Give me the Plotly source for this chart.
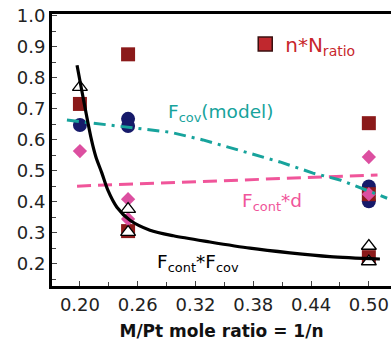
import plotly.graph_objects as go

# ---- data ----
x_sq = [0.20, 0.25, 0.25, 0.50, 0.50, 0.50]
y_sq = [0.716, 0.876, 0.306, 0.654, 0.425, 0.222]

x_circ = [0.20, 0.25, 0.25, 0.50, 0.50]
y_circ = [0.648, 0.668, 0.645, 0.450, 0.402]

x_dia = [0.20, 0.25, 0.25, 0.50, 0.50]
y_dia = [0.564, 0.409, 0.345, 0.545, 0.425]

x_tri = [0.20, 0.25, 0.25, 0.50, 0.50]
y_tri = [0.770, 0.377, 0.303, 0.258, 0.208]

x_fcf = [0.197, 0.212, 0.2166, 0.2228, 0.229, 0.2384, 0.252, 0.2727, 0.297, 0.335, 0.3765, 0.418, 0.4596, 0.5115]
y_fcf = [0.841, 0.600, 0.545, 0.493, 0.438, 0.383, 0.341, 0.309, 0.291, 0.271, 0.251, 0.236, 0.224, 0.216]

x_fcov = [0.1865, 0.25, 0.2935, 0.3277, 0.366, 0.4077, 0.442, 0.47, 0.519]
y_fcov = [0.664, 0.641, 0.625, 0.600, 0.567, 0.529, 0.493, 0.471, 0.412]

x_fd = [0.197, 0.509]
y_fd = [0.451, 0.487]

x_ticks = [0.20, 0.26, 0.32, 0.38, 0.44, 0.50]
x_ticklabels = ["0.20", "0.26", "0.32", "0.38", "0.44", "0.50"]
y_ticks = [0.2, 0.3, 0.4, 0.5, 0.6, 0.7, 0.8, 0.9, 1.0]
y_ticklabels = ["0.2", "0.3", "0.4", "0.5", "0.6", "0.7", "0.8", "0.9", "1.0"]

FONT = "DejaVu Sans"
RED = "#8B1A1A"
NAVY = "#161A6A"
PINK = "#DC4FA0"
PINKL = "#F0559A"
TEAL = "#17A39C"

fig = go.Figure()

fig.add_trace(go.Scatter(x=x_circ, y=y_circ, mode="markers", showlegend=False,
                         marker=dict(symbol="circle", size=14, color=NAVY)))
fig.add_trace(go.Scatter(x=x_sq, y=y_sq, mode="markers", showlegend=False,
                         marker=dict(symbol="square", size=14, color=RED)))
fig.add_trace(go.Scatter(x=x_dia, y=y_dia, mode="markers", showlegend=False,
                         marker=dict(symbol="diamond", size=11, color=PINK)))
fig.add_trace(go.Scatter(x=x_tri, y=y_tri, mode="markers", showlegend=False,
                         marker=dict(symbol="triangle-up", size=13, color="white",
                                     line=dict(color="black", width=1.3))))
fig.add_trace(go.Scatter(x=x_fd, y=y_fd, mode="lines", showlegend=False,
                         line=dict(color=PINKL, width=3, dash="14px,7px")))
fig.add_trace(go.Scatter(x=x_fcov, y=y_fcov, mode="lines", showlegend=False,
                         line=dict(color=TEAL, width=3, dash="12px,6px,3px,6px")))
fig.add_trace(go.Scatter(x=x_fcf, y=y_fcf, mode="lines", showlegend=False,
                         line=dict(color="black", width=3.2, shape="spline", smoothing=0.8)))
# legend entry for n*N_ratio
fig.add_trace(go.Scatter(x=[None], y=[None], mode="markers", name="n*N<sub>ratio</sub>",
                         marker=dict(symbol="square", size=14, color="#C0282E",
                                     line=dict(color="#3A1010", width=1.5))))

ann_font = dict(family=FONT, size=18.5)
fig.add_annotation(x=0.2893, y=0.687, xref="x", yref="y", xanchor="left", yanchor="middle",
                   text="F<sub>cov</sub>(model)", showarrow=False, font=dict(ann_font, color=TEAL))
fig.add_annotation(x=0.366, y=0.40, xref="x", yref="y", xanchor="left", yanchor="middle",
                   text="F<sub>cont</sub>*d", showarrow=False, font=dict(ann_font, color=PINKL))
fig.add_annotation(x=0.278, y=0.203, xref="x", yref="y", xanchor="left", yanchor="middle",
                   text="F<sub>cont</sub>*F<sub>cov</sub>", showarrow=False, font=dict(ann_font, color="black"))

fig.update_layout(
    width=391, height=341,
    margin=dict(l=52, r=0, t=14, b=55),
    paper_bgcolor="white", plot_bgcolor="white",
    font=dict(family=FONT, color="#222222"),
    showlegend=True,
    legend=dict(x=0.57, y=0.89, xanchor="left", yanchor="middle",
                bgcolor="rgba(0,0,0,0)", borderwidth=0,
                font=dict(family=FONT, size=20, color="#C8262C")),
    xaxis=dict(range=[0.171, 0.523], tickmode="array", tickvals=x_ticks, ticktext=x_ticklabels,
               ticks="inside", ticklen=5, tickwidth=1, tickcolor="#444",
               minor=dict(dtick=0.03, tick0=0.20, ticks="inside", ticklen=4, tickcolor="#444"),
               showgrid=False, zeroline=False,
               showline=True, linecolor="black", linewidth=3, mirror=True,
               tickfont=dict(family=FONT, size=18, color="#222"),
               title=dict(text="<b>M/Pt mole ratio = 1/n</b>", standoff=15,
                          font=dict(family=FONT, size=17, color="#111"))),
    yaxis=dict(range=[0.129, 1.006], tickmode="array", tickvals=y_ticks, ticktext=y_ticklabels,
               ticks="inside", ticklen=5, tickwidth=1, tickcolor="#444",
               minor=dict(dtick=0.05, tick0=0.0, ticks="inside", ticklen=4, tickcolor="#444"),
               showgrid=False, zeroline=False,
               showline=True, linecolor="black", linewidth=3,
               tickfont=dict(family=FONT, size=18, color="#222")),
)

fig.write_html("out.html")
